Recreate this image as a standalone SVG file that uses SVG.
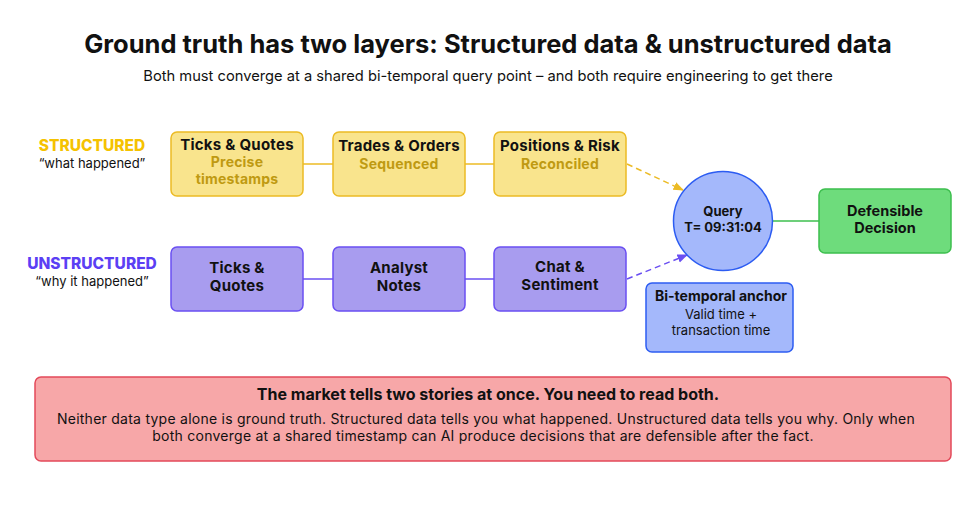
<svg xmlns="http://www.w3.org/2000/svg" width="976" height="509" viewBox="0 0 976 509">
<style>
text{font-family:Inter,"Noto Sans",sans-serif;fill:#111;text-anchor:middle}
.b{font-weight:700}
.title{font-size:25.5px;font-weight:700}
.sub{font-size:14.7px}
.nt{font-size:15px;font-weight:700;letter-spacing:0.25px}
.ns{font-size:14px;font-weight:700;fill:#bf9a12;letter-spacing:0.2px}
.ys{fill:#f9e48d;stroke:#ecbb25;stroke-width:1.5}
.pu{fill:#a89cef;stroke:#6a4ff2;stroke-width:1.5}
.bl{fill:#a4b8fb;stroke:#2c5cf2;stroke-width:1.5}
.gr{fill:#6edc7c;stroke:#3dbf4e;stroke-width:1.5}
.rd{fill:#f7a7a8;stroke:#e3495a;stroke-width:1.5}
.body{font-size:14px;letter-spacing:0.25px}
</style>
<defs>
<marker id="ay" viewBox="0 0 10 10" refX="9" refY="5" markerWidth="7" markerHeight="7" orient="auto"><path d="M0,1 L10,5 L0,9 z" fill="#ecbb25"/></marker>
<marker id="ap" viewBox="0 0 10 10" refX="9" refY="5" markerWidth="7" markerHeight="7" orient="auto"><path d="M0,1 L10,5 L0,9 z" fill="#6a4ff2"/></marker>
</defs>
<rect width="976" height="509" fill="#fff"/>
<text x="488" y="53" class="title">Ground truth has two layers: Structured data &amp; unstructured data</text>
<text x="488" y="81" class="sub">Both must converge at a shared bi-temporal query point – and both require engineering to get there</text>

<g id="label-structured">
<text x="92" y="151" style="font-size:15.5px;font-weight:800;fill:#f5c200">STRUCTURED</text>
<text x="92" y="168" style="font-size:13px">“what happened”</text>
</g>
<g id="label-unstructured">
<text x="92" y="269" style="font-size:15.5px;font-weight:800;fill:#5b3ff4">UNSTRUCTURED</text>
<text x="92" y="286" style="font-size:13px">“why it happened”</text>
</g>

<g id="connectors" fill="none">
<line x1="303" y1="164" x2="333" y2="164" stroke="#ecbb25" stroke-width="1.5"/>
<line x1="465" y1="164" x2="494" y2="164" stroke="#ecbb25" stroke-width="1.5"/>
<line x1="303" y1="279" x2="333" y2="279" stroke="#6a4ff2" stroke-width="1.5"/>
<line x1="465" y1="279" x2="494" y2="279" stroke="#6a4ff2" stroke-width="1.5"/>
<line x1="627" y1="164" x2="683" y2="190" stroke="#ecbb25" stroke-width="1.5" stroke-dasharray="6,4" marker-end="url(#ay)"/>
<line x1="627" y1="279" x2="687" y2="255" stroke="#6a4ff2" stroke-width="1.5" stroke-dasharray="6,4" marker-end="url(#ap)"/>
<line x1="773" y1="221" x2="819" y2="221" stroke="#3dbf4e" stroke-width="1.5"/>
</g>

<g id="s1"><rect x="171" y="132" width="132" height="64" rx="6" class="ys"/>
<text x="237" y="150" class="nt">Ticks &amp; Quotes</text>
<text x="237" y="167" class="ns">Precise</text><text x="237" y="184" class="ns">timestamps</text></g>
<g id="s2"><rect x="333" y="132" width="132" height="64" rx="6" class="ys"/>
<text x="399" y="151" class="nt">Trades &amp; Orders</text>
<text x="399" y="169" class="ns">Sequenced</text></g>
<g id="s3"><rect x="494" y="132" width="132" height="64" rx="6" class="ys"/>
<text x="560" y="151" class="nt">Positions &amp; Risk</text>
<text x="560" y="169" class="ns">Reconciled</text></g>

<g id="u1"><rect x="171" y="247" width="132" height="64" rx="6" class="pu"/>
<text x="237" y="273" class="nt">Ticks &amp;</text><text x="237" y="291" class="nt">Quotes</text></g>
<g id="u2"><rect x="333" y="247" width="132" height="64" rx="6" class="pu"/>
<text x="399" y="273" class="nt">Analyst</text><text x="399" y="291" class="nt">Notes</text></g>
<g id="u3"><rect x="494" y="247" width="132" height="64" rx="6" class="pu"/>
<text x="560" y="272" class="nt">Chat &amp;</text><text x="560" y="290" class="nt">Sentiment</text></g>

<g id="query"><circle cx="723" cy="221" r="49.5" class="bl"/>
<text x="723" y="216" class="b" style="font-size:13px">Query</text>
<text x="723" y="232" class="b" style="font-size:13px">T= 09:31:04</text></g>

<g id="decision"><rect x="819" y="189" width="132" height="64" rx="6" class="gr"/>
<text x="885" y="216" class="b" style="font-size:14.5px">Defensible</text><text x="885" y="233" class="b" style="font-size:14.5px">Decision</text></g>

<g id="anchor"><rect x="646" y="283" width="147" height="69" rx="6" class="bl"/>
<text x="721" y="301" class="b" style="font-size:14px">Bi-temporal anchor</text>
<text x="721" y="319" style="font-size:13px">Valid time +</text>
<text x="721" y="335" style="font-size:13px">transaction time</text></g>

<g id="callout"><rect x="35" y="377" width="916" height="84" rx="6" class="rd"/>
<text x="488" y="400" class="b" style="font-size:16px">The market tells two stories at once. You need to read both.</text>
<text x="486" y="424" class="body">Neither data type alone is ground truth. Structured data tells you what happened. Unstructured data tells you why. Only when</text>
<text x="483" y="441" class="body">both converge at a shared timestamp can AI produce decisions that are defensible after the fact.</text></g>
</svg>
